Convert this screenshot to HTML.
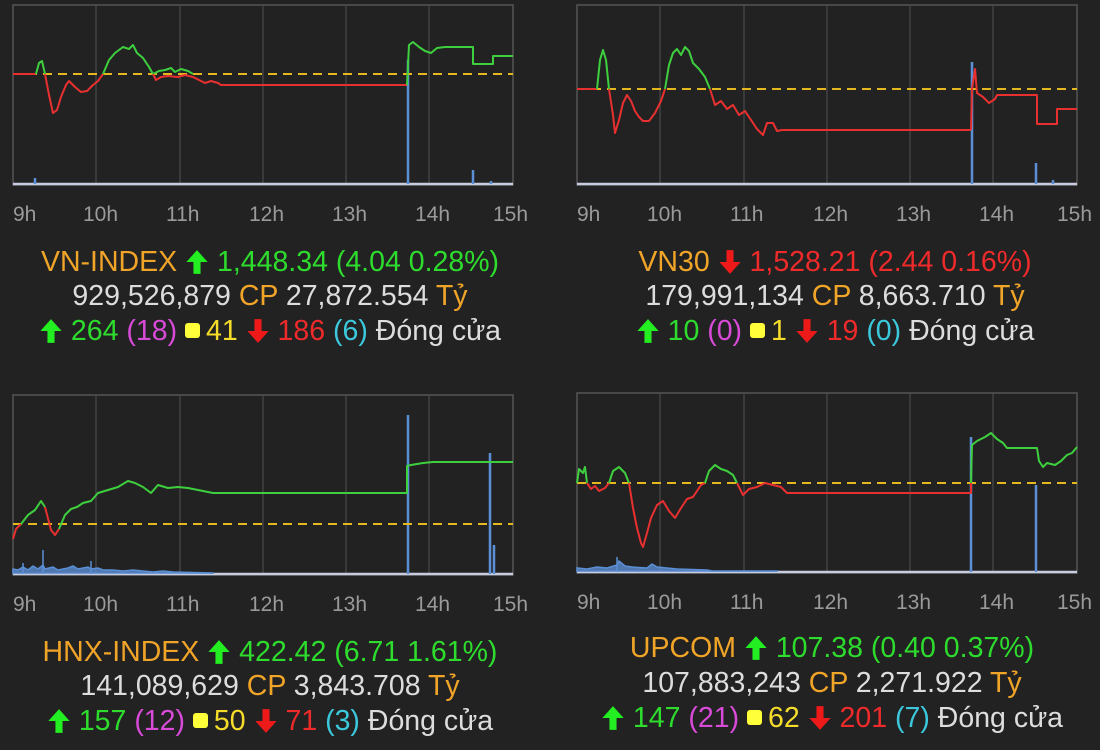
<!DOCTYPE html>
<html><head><meta charset="utf-8"><style>
body{margin:0;background:#222;width:1100px;height:750px;overflow:hidden;font-family:"Liberation Sans",sans-serif;position:relative}
.t{position:absolute;width:600px;text-align:center;font-size:28.5px;line-height:32px;white-space:nowrap;color:#ddd}
.o{color:#f0a428}.g{color:#2edc2e}.r{color:#ee2a2a}.m{color:#d84ad8}.y{color:#f5dc2a}.c{color:#3cc8dc}
.sq{display:inline-block;width:15px;height:15px;background:#ffff3a;border-radius:3px;margin:0 6px 3px 0;vertical-align:middle}
svg.a{width:24px;height:26px;vertical-align:-4px}
</style></head><body>
<svg width="1100" height="750" style="position:absolute;left:0;top:0" font-family="Liberation Sans" font-size="21" fill="#aaa">
<defs>
<g id="grid">
<rect x="0" y="0" width="500" height="180" fill="none" stroke="#555" stroke-width="1.5"/>
<g stroke="#4a4a4a" stroke-width="1.2"><line x1="83" y1="0" x2="83" y2="180"/><line x1="167" y1="0" x2="167" y2="180"/><line x1="250" y1="0" x2="250" y2="180"/><line x1="333" y1="0" x2="333" y2="180"/><line x1="416" y1="0" x2="416" y2="180"/></g>
<line x1="0" y1="179" x2="500" y2="179" stroke="#c8cce0" stroke-width="2.5"/>
<g fill="#9a9a9a"><text x="0" y="216">9h</text><text x="70" y="216">10h</text><text x="153" y="216">11h</text><text x="236" y="216">12h</text><text x="319" y="216">13h</text><text x="402" y="216">14h</text><text x="480" y="216">15h</text></g>
</g>
</defs>
<g transform="translate(13,5)">
<use href="#grid"/>
<g stroke="#5b8fd6" stroke-width="2.5"><line x1="22" y1="179" x2="22" y2="173"/><line x1="395" y1="179" x2="395" y2="55"/><line x1="460" y1="179" x2="460" y2="165"/><line x1="478" y1="179" x2="478" y2="176"/></g>
<line x1="0" y1="69" x2="500" y2="69" stroke="#e6b820" stroke-width="2" stroke-dasharray="9,6"/>
<g fill="none" stroke-width="2" stroke-linejoin="round">
<polyline stroke="#e83030" points="0,69 23,69"/>
<polyline stroke="#3ecf3e" points="23,69 26,58 29,56 32,69"/>
<polyline stroke="#e83030" points="32,69 36,90 40,108 44,105 48,92 53,80 56,76 62,82 68,87 74,86 80,80 85,76 90,69"/>
<polyline stroke="#3ecf3e" points="90,69 96,55 102,48 110,42 116,44 120,40 124,48 130,53 136,62 140,69 146,66 152,65 158,63 162,67 168,64 175,66 180,69"/>
<polyline stroke="#e83030" points="140,69 143,75 148,72 155,71 165,72 172,70 180,72 186,75 192,78 198,76 205,78 208,80 212,80 394,80"/>
<polyline stroke="#3ecf3e" points="394,80 396,40 400,37 406,42 412,46 418,48 424,43 432,42 460,42 460,59 480,59 480,51 500,51"/>
</g>
</g>
<g transform="translate(577,5)">
<use href="#grid"/>
<g stroke="#5b8fd6" stroke-width="2.5"><line x1="395" y1="179" x2="395" y2="57"/><line x1="459" y1="179" x2="459" y2="158"/><line x1="476" y1="179" x2="476" y2="175"/></g>
<line x1="0" y1="84" x2="500" y2="84" stroke="#e6b820" stroke-width="2" stroke-dasharray="9,6"/>
<g fill="none" stroke-width="2" stroke-linejoin="round">
<polyline stroke="#e83030" points="0,84 20,84"/>
<polyline stroke="#3ecf3e" points="20,84 23,55 26,45 29,55 32,84"/>
<polyline stroke="#e83030" points="32,84 36,110 38,128 42,115 46,98 50,90 54,96 58,106 62,112 66,116 72,116 78,108 84,96 88,84"/>
<polyline stroke="#3ecf3e" points="88,84 92,60 96,48 100,44 104,50 108,42 112,46 116,58 122,64 128,72 133,84"/>
<polyline stroke="#e83030" points="133,84 138,100 144,96 150,104 156,100 162,110 168,106 174,115 180,124 186,130 190,118 196,118 200,126 205,125 394,125"/>
<polyline stroke="#e83030" points="394,125 395,84 398,64 400,88 406,92 412,98 418,94 420,90 460,90 460,119 480,119 480,104 500,104"/>
</g>
</g>
<g transform="translate(13,395)">
<use href="#grid"/>
<g stroke="#5b8fd6" stroke-width="1.5">
<polyline fill="#5b8fd6" fill-opacity="0.8" points="0,179 0,174 5,175 10,172 15,175 20,171 25,174 30,170 32,174 40,172 45,175 55,173 60,171 65,174 75,172 78,174 85,173 90,175 100,175 110,176 120,175 140,177 150,176 160,177 200,178 200,179"/>
<line x1="30" y1="179" x2="30" y2="155"/><line x1="78" y1="179" x2="78" y2="166"/><line x1="10" y1="179" x2="10" y2="168"/>
<line x1="395" y1="179" x2="395" y2="20" stroke-width="2.5"/><line x1="477" y1="179" x2="477" y2="58" stroke-width="2.5"/><line x1="481" y1="179" x2="481" y2="150" stroke-width="2.5"/></g>
<line x1="0" y1="129" x2="500" y2="129" stroke="#e6b820" stroke-width="2" stroke-dasharray="9,6"/>
<g fill="none" stroke-width="2" stroke-linejoin="round">
<polyline stroke="#e83030" points="0,144 3,134 8,129"/>
<polyline stroke="#3ecf3e" points="8,129 15,120 22,115 28,106 32,112"/>
<polyline stroke="#e83030" points="32,112 38,135 42,140 46,134"/>
<polyline stroke="#3ecf3e" points="46,134 52,120 58,114 64,112 70,108 78,106 85,98 95,95 105,92 115,86 122,88 130,92 138,98 145,90 155,93 165,92 175,93 190,96 200,98 394,98 394,71 398,70 410,68 420,67 440,67 500,67"/>
</g>
</g>
<g transform="translate(577,393)">
<use href="#grid"/>
<g stroke="#5b8fd6" stroke-width="1.5">
<polyline fill="#5b8fd6" fill-opacity="0.8" points="0,179 0,175 10,176 20,174 30,175 40,172 42,168 48,173 55,174 70,175 75,171 80,174 100,176 130,177 135,178 200,178 200,179"/>
<line x1="40" y1="179" x2="40" y2="164"/>
<line x1="394" y1="179" x2="394" y2="44" stroke-width="2.5"/><line x1="459" y1="179" x2="459" y2="92" stroke-width="2.5"/></g>
<line x1="0" y1="90" x2="500" y2="90" stroke="#e6b820" stroke-width="2" stroke-dasharray="9,6"/>
<g fill="none" stroke-width="2" stroke-linejoin="round">
<polyline stroke="#3ecf3e" points="0,90 2,76 6,80 8,74 10,90"/>
<polyline stroke="#e83030" points="10,90 14,96 18,93 22,98 28,95 32,90"/>
<polyline stroke="#3ecf3e" points="32,90 36,78 42,74 48,80 52,90"/>
<polyline stroke="#e83030" points="52,90 56,115 60,135 64,150 66,154 70,140 74,125 80,112 86,108 92,118 98,125 104,115 110,106 116,104 120,98 124,92 128,90"/>
<polyline stroke="#3ecf3e" points="128,90 132,78 138,72 144,76 150,78 156,82 160,90"/>
<polyline stroke="#e83030" points="160,90 166,102 172,96 180,94 188,90 196,92 204,94 210,100 394,100 394,90"/>
<polyline stroke="#3ecf3e" points="394,90 395,52 400,48 408,44 414,40 420,46 426,50 430,55 460,55 462,68 466,74 470,70 478,72 484,68 490,62 495,60 500,54"/>
</g>
</g>
</svg>
<svg width="0" height="0" style="position:absolute"><defs>
<symbol id="up" viewBox="0 0 20 22"><path d="M10 1 L19 11 L13 11 L13 21 L7 21 L7 11 L1 11 Z" fill="#22ee22"/></symbol>
<symbol id="dn" viewBox="0 0 20 22"><path d="M10 21 L19 11 L13 11 L13 1 L7 1 L7 11 L1 11 Z" fill="#ee1a1a"/></symbol>
</defs></svg>

<div class="t" style="left:-30px;top:246px"><span class="o">VN-INDEX</span> <svg class="a"><use href="#up"/></svg> <span class="g">1,448.34 (4.04 0.28%)</span></div>
<div class="t" style="left:-30px;top:280px">929,526,879 <span class="o">CP</span> 27,872.554 <span class="o">Tỷ</span></div>
<div class="t" style="left:-30px;top:315px"><svg class="a"><use href="#up"/></svg> <span class="g">264</span> <span class="m">(18)</span> <span class="sq"></span><span class="y">41</span> <svg class="a"><use href="#dn"/></svg> <span class="r">186</span> <span class="c">(6)</span> Đóng cửa</div>

<div class="t" style="left:535px;top:246px"><span class="o">VN30</span> <svg class="a"><use href="#dn"/></svg> <span class="r">1,528.21 (2.44 0.16%)</span></div>
<div class="t" style="left:535px;top:280px">179,991,134 <span class="o">CP</span> 8,663.710 <span class="o">Tỷ</span></div>
<div class="t" style="left:535px;top:315px"><svg class="a"><use href="#up"/></svg> <span class="g">10</span> <span class="m">(0)</span> <span class="sq"></span><span class="y">1</span> <svg class="a"><use href="#dn"/></svg> <span class="r">19</span> <span class="c">(0)</span> Đóng cửa</div>

<div class="t" style="left:-30px;top:636px"><span class="o">HNX-INDEX</span> <svg class="a"><use href="#up"/></svg> <span class="g">422.42 (6.71 1.61%)</span></div>
<div class="t" style="left:-30px;top:670px">141,089,629 <span class="o">CP</span> 3,843.708 <span class="o">Tỷ</span></div>
<div class="t" style="left:-30px;top:705px"><svg class="a"><use href="#up"/></svg> <span class="g">157</span> <span class="m">(12)</span> <span class="sq"></span><span class="y">50</span> <svg class="a"><use href="#dn"/></svg> <span class="r">71</span> <span class="c">(3)</span> Đóng cửa</div>

<div class="t" style="left:532px;top:632px"><span class="o">UPCOM</span> <svg class="a"><use href="#up"/></svg> <span class="g">107.38 (0.40 0.37%)</span></div>
<div class="t" style="left:532px;top:667px">107,883,243 <span class="o">CP</span> 2,271.922 <span class="o">Tỷ</span></div>
<div class="t" style="left:532px;top:702px"><svg class="a"><use href="#up"/></svg> <span class="g">147</span> <span class="m">(21)</span> <span class="sq"></span><span class="y">62</span> <svg class="a"><use href="#dn"/></svg> <span class="r">201</span> <span class="c">(7)</span> Đóng cửa</div>
</body></html>
